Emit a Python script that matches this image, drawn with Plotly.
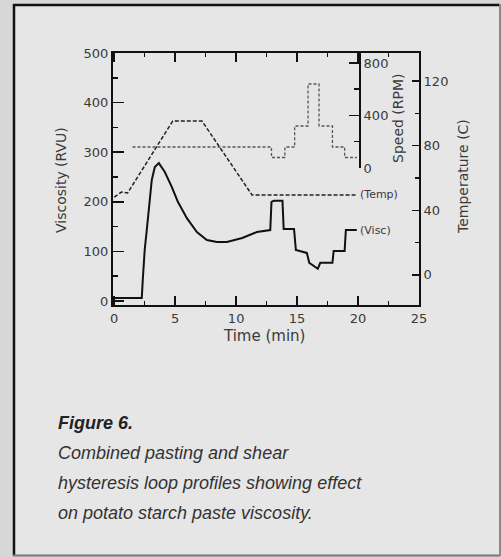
import plotly.graph_objects as go

# ---------------- data ----------------
visc_time = [0, 2.26, 2.34, 2.5, 2.67, 2.92, 3.08, 3.33, 3.66, 4.15, 4.72, 5.22, 5.96,
             6.78, 7.6, 8.42, 9.24, 10.5, 11.7, 12.8, 12.9, 13.1, 13.8, 13.9, 14.75,
             14.9, 15.8, 16.0, 16.7, 16.9, 17.9, 18.0, 18.9, 19.0, 19.9]
visc_rvu = [6, 6, 42, 103, 143, 204, 244, 270, 278, 260, 230, 200, 167,
            139, 123, 119, 119, 127, 139, 143, 200, 202, 202, 145, 145,
            103, 97, 77, 65, 77, 77, 101, 101, 143, 143]

temp_time = [0, 0.6, 1.1, 4.8, 7.2, 11.3, 19.9]
temp_c = [48.2, 51.3, 50.7, 95.2, 95.2, 49.5, 49.5]

speed_time = [1.5, 12.9, 14.0, 14.8, 15.9, 16.8, 17.9, 18.9, 19.9]
speed_rpm = [160, 80, 160, 320, 640, 320, 160, 80, 80]

x_ticks = [0, 5, 10, 15, 20, 25]
visc_ticks = [0, 100, 200, 300, 400, 500]
temp_ticks = [0, 40, 80, 120]
speed_ticks = [0, 400, 800]

caption_title = "Figure 6."
caption_lines = ["Combined pasting and shear",
                 "hysteresis loop profiles showing effect",
                 "on potato starch paste viscosity."]

# ---------------- layout helpers (pixel -> paper) ----------------
W, H = 501, 557
L, R, T, B = 113, 419, 53, 305


def px(x):
    return (x - L) / (R - L)


def py(y):
    return (B - y) / (B - T)


FONT = "DejaVu Sans"
TXT = "#3a3a3a"
OUTER = "#d7d7d7"

fig = go.Figure()

fig.add_trace(go.Scatter(x=visc_time, y=visc_rvu, mode="lines",
                         line=dict(color="#111111", width=2), yaxis="y",
                         showlegend=False, hoverinfo="skip"))
fig.add_trace(go.Scatter(x=temp_time, y=temp_c, mode="lines",
                         line=dict(color="#222222", width=1.5, dash="4px,2px"),
                         yaxis="y2", showlegend=False, hoverinfo="skip"))
fig.add_trace(go.Scatter(x=speed_time, y=speed_rpm, mode="lines", line_shape="hv",
                         line=dict(color="#555555", width=1.3, dash="3px,2px"),
                         yaxis="y3", showlegend=False, hoverinfo="skip"))

axis_common = dict(showgrid=False, zeroline=False, showline=True, linecolor="#111111",
                   linewidth=2, tickcolor="#111111", tickwidth=1.5, ticks="inside",
                   tickfont=dict(family=FONT, size=13, color=TXT))

fig.update_layout(
    width=W, height=H,
    margin=dict(l=L, r=W - R, t=T, b=H - B, pad=0),
    paper_bgcolor=OUTER,
    plot_bgcolor="rgba(0,0,0,0)",
    xaxis=dict(range=[-0.1, 25], tickvals=x_ticks, ticklen=9, mirror="ticks",
               minor=dict(dtick=2.5, tick0=0, ticklen=4, ticks="inside", tickcolor="#111111"),
               **axis_common),
    yaxis=dict(range=[-8, 500], tickvals=visc_ticks, ticklen=11,
               minor=dict(dtick=50, tick0=0, ticklen=5, ticks="inside", tickcolor="#111111"),
               **axis_common),
    yaxis2=dict(range=[-18.6, 137.3], tickvals=temp_ticks, ticklen=7, overlaying="y",
                side="right", anchor="x",
                minor=dict(dtick=20, tick0=0, ticklen=4, ticks="inside", tickcolor="#111111"),
                **axis_common),
    yaxis3=dict(range=[0, 876], tickvals=speed_ticks, ticklen=10, domain=[py(168), 1],
                anchor="free", position=px(360), side="right",
                minor=dict(dtick=200, tick0=0, ticklen=5, ticks="inside", tickcolor="#111111"),
                **axis_common),
)

# background card
fig.add_shape(type="rect", xref="paper", yref="paper", x0=px(13), x1=px(500), y0=py(556), y1=py(4),
              fillcolor="#e6e6e6", line=dict(width=0), layer="below")
fig.add_shape(type="line", xref="paper", yref="paper", x0=px(14), x1=px(14), y0=py(556), y1=py(4),
              line=dict(color="#111111", width=2.5), layer="below")
fig.add_shape(type="line", xref="paper", yref="paper", x0=px(13), x1=px(500), y0=py(5), y1=py(5),
              line=dict(color="#111111", width=2.5), layer="below")
fig.add_shape(type="line", xref="paper", yref="paper", x0=px(13), x1=px(500), y0=py(555.5), y1=py(555.5),
              line=dict(color="#777777", width=2), layer="below")
fig.add_shape(type="line", xref="paper", yref="paper", x0=px(500), x1=px(500), y0=py(556), y1=py(4),
              line=dict(color="#888888", width=2), layer="below")


def label(text, x, y, size=14, angle=0):
    fig.add_annotation(text=text, xref="paper", yref="paper", x=px(x), y=py(y),
                       xanchor="center", yanchor="middle", textangle=angle,
                       showarrow=False, font=dict(family=FONT, size=size, color=TXT))


# axis titles
label("Viscosity (RVU)", 61, 180, 14, -90)
label("Temperature (C)", 463, 177, 14, -90)
label("Speed (RPM)", 398, 118, 14, -90)
label("Time (min)", 264, 336, 15)

# curve labels
fig.add_annotation(text="(Temp)", x=temp_time[-1], y=temp_c[-1], yref="y2", xanchor="left",
                   yanchor="middle", xshift=1, showarrow=False,
                   font=dict(family=FONT, size=11, color=TXT))
fig.add_annotation(text="(Visc)", x=visc_time[-1], y=visc_rvu[-1], yref="y", xanchor="left",
                   yanchor="middle", xshift=1, showarrow=False,
                   font=dict(family=FONT, size=11, color=TXT))

# caption
CAP = "Liberation Sans, Arial, sans-serif"
fig.add_annotation(text="<b><i>" + caption_title + "</i></b>", xref="paper", yref="paper",
                   x=px(56), y=py(423), xanchor="left", yanchor="middle", showarrow=False,
                   font=dict(family=CAP, size=18, color="#222222"))
for i, line in enumerate(caption_lines):
    fig.add_annotation(text="<i>" + line + "</i>", xref="paper", yref="paper",
                       x=px(56), y=py(453 + 30 * i), xanchor="left", yanchor="middle",
                       showarrow=False, font=dict(family=CAP, size=18, color="#333333"))

fig.write_html(
    "out.html",
    config={"displayModeBar": False, "staticPlot": True},
    post_script="document.body.style.margin='0';document.body.style.background='%s';" % OUTER,
)
